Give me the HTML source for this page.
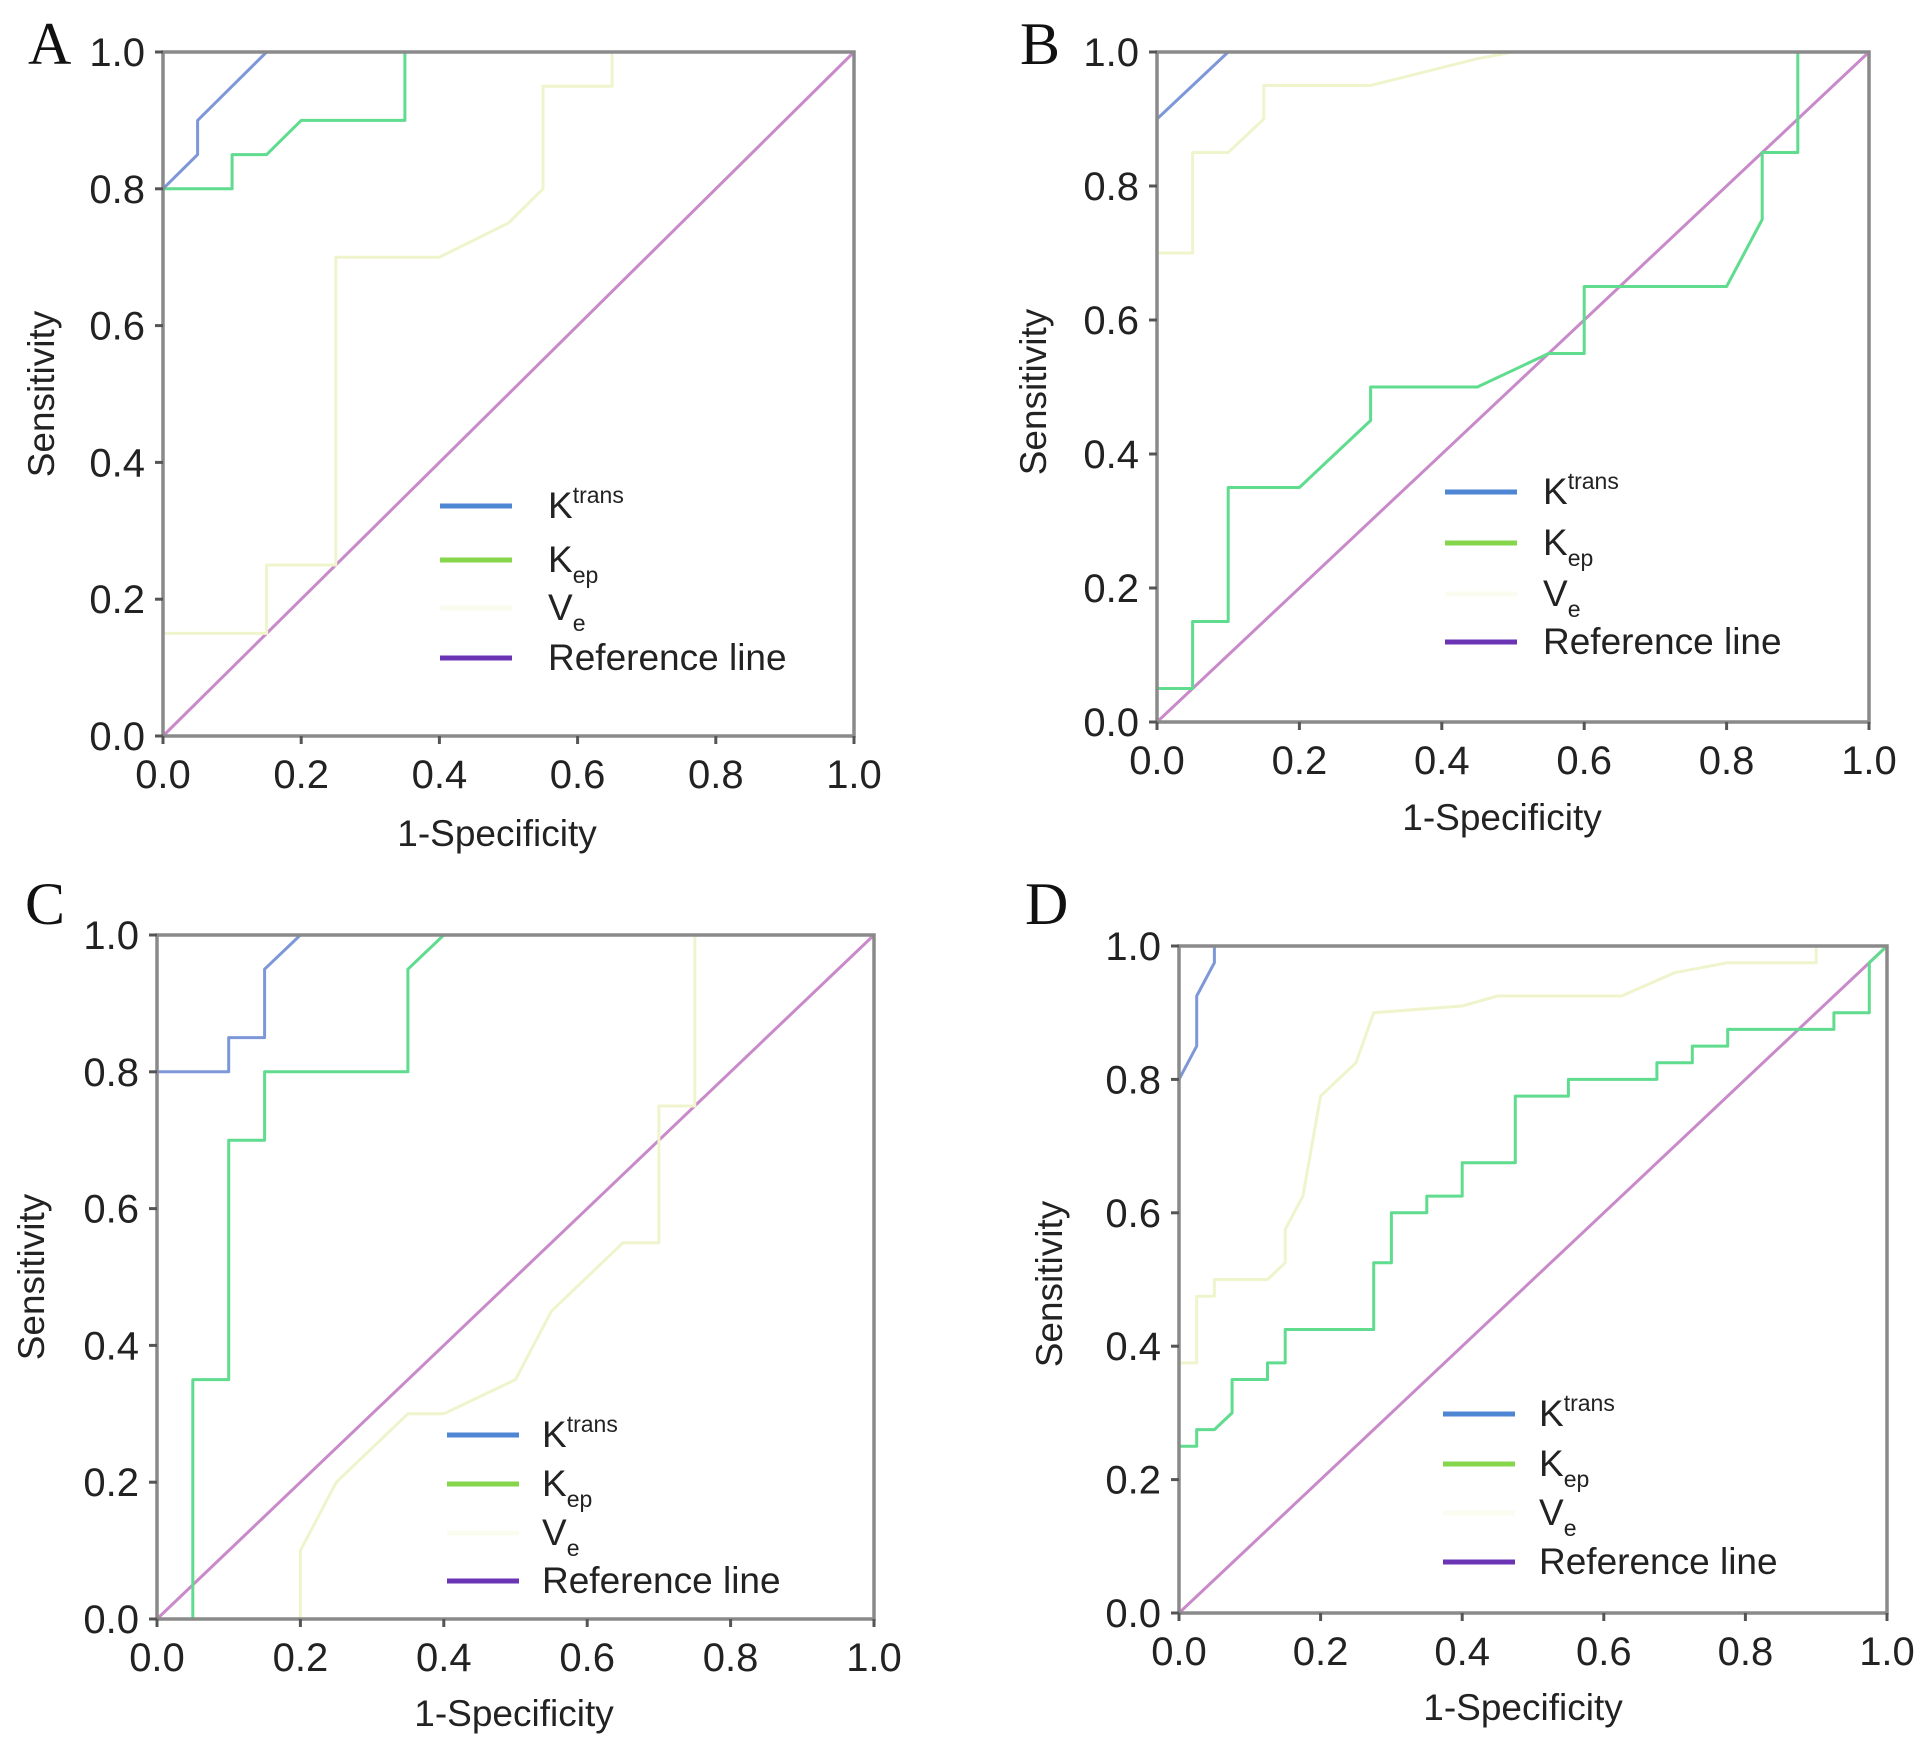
<!DOCTYPE html>
<html><head><meta charset="utf-8"><style>
html,body{margin:0;padding:0;background:#fff;}
svg{display:block;font-family:"Liberation Sans",sans-serif;}
</style></head><body>
<svg id="fig" width="1925" height="1746" viewBox="0 0 1925 1746" xmlns="http://www.w3.org/2000/svg"></svg>
<script>
const tickValues=[0,0.2,0.4,0.6,0.8,1.0];
const tickLabels=["0.0","0.2","0.4","0.6","0.8","1.0"];
const seriesNames=["Ktrans","Kep","Ve"];
const panelLetters=["A","B","C","D"];
const aKtransX=[0,0,0.05,0.05,0.15,1];
const aKtransY=[0,0.8,0.85,0.9,1,1];
const aKepX=[0,0,0.1,0.1,0.15,0.2,0.35,0.35,1];
const aKepY=[0,0.8,0.8,0.85,0.85,0.9,0.9,1,1];
const aVeX=[0,0,0.15,0.15,0.25,0.25,0.4,0.5,0.55,0.55,0.65,0.65,1];
const aVeY=[0,0.15,0.15,0.25,0.25,0.7,0.7,0.75,0.8,0.95,0.95,1,1];
const bKtransX=[0,0,0.1,1];
const bKtransY=[0,0.9,1,1];
const bKepX=[0,0,0.05,0.05,0.1,0.1,0.2,0.3,0.3,0.45,0.55,0.6,0.6,0.8,0.85,0.85,0.9,0.9,1];
const bKepY=[0,0.05,0.05,0.15,0.15,0.35,0.35,0.45,0.5,0.5,0.55,0.55,0.65,0.65,0.75,0.85,0.85,1,1];
const bVeX=[0,0,0.05,0.05,0.1,0.15,0.15,0.3,0.45,0.5,1];
const bVeY=[0,0.7,0.7,0.85,0.85,0.9,0.95,0.95,0.99,1,1];
const cKtransX=[0,0,0.1,0.1,0.15,0.15,0.2,1];
const cKtransY=[0,0.8,0.8,0.85,0.85,0.95,1,1];
const cKepX=[0.05,0.05,0.1,0.1,0.15,0.15,0.35,0.35,0.4,1];
const cKepY=[0,0.35,0.35,0.7,0.7,0.8,0.8,0.95,1,1];
const cVeX=[0.2,0.2,0.25,0.35,0.4,0.5,0.55,0.65,0.7,0.7,0.75,0.75,1];
const cVeY=[0,0.1,0.2,0.3,0.3,0.35,0.45,0.55,0.55,0.75,0.75,1,1];
const dKtransX=[0,0,0.025,0.025,0.05,0.05,1];
const dKtransY=[0,0.8,0.85,0.925,0.975,1,1];
const dKepX=[0,0,0.025,0.025,0.05,0.075,0.075,0.125,0.125,0.15,0.15,0.275,0.275,0.3,0.3,0.35,0.35,0.4,0.4,0.475,0.475,0.55,0.55,0.675,0.675,0.725,0.725,0.775,0.775,0.925,0.925,0.975,0.975,1];
const dKepY=[0,0.25,0.25,0.275,0.275,0.3,0.35,0.35,0.375,0.375,0.425,0.425,0.525,0.525,0.6,0.6,0.625,0.625,0.675,0.675,0.775,0.775,0.8,0.8,0.825,0.825,0.85,0.85,0.875,0.875,0.9,0.9,0.975,1];
const dVeX=[0,0,0.025,0.025,0.05,0.05,0.125,0.15,0.15,0.175,0.2,0.225,0.25,0.275,0.4,0.45,0.625,0.7,0.775,0.9,0.9,1];
const dVeY=[0,0.375,0.375,0.475,0.475,0.5,0.5,0.525,0.575,0.625,0.775,0.8,0.825,0.9,0.91,0.925,0.925,0.96,0.975,0.975,1,1];

const panels=[
 {id:"a",x0:163,x1:854,y0:736,y1:52,letter:[28,64],ylab:[54,394],xlab:[497,846],leg:{lx:440,tx:548,rows:[518,572,620,670]},
  kx:aKtransX,ky:aKtransY,ex:aKepX,ey:aKepY,vx:aVeX,vy:aVeY},
 {id:"b",x0:1157,x1:1869,y0:722,y1:52,letter:[1020,64],ylab:[1046,392],xlab:[1502,830],leg:{lx:1445,tx:1543,rows:[504,555,606,654]},
  kx:bKtransX,ky:bKtransY,ex:bKepX,ey:bKepY,vx:bVeX,vy:bVeY},
 {id:"c",x0:157,x1:874,y0:1619,y1:935,letter:[25,924],ylab:[44,1277],xlab:[514,1726],leg:{lx:447,tx:542,rows:[1447,1496,1545,1593]},
  kx:cKtransX,ky:cKtransY,ex:cKepX,ey:cKepY,vx:cVeX,vy:cVeY},
 {id:"d",x0:1179,x1:1887,y0:1613,y1:946,letter:[1025,924],ylab:[1062,1284],xlab:[1523,1720],leg:{lx:1443,tx:1539,rows:[1426,1476,1525,1574]},
  kx:dKtransX,ky:dKtransY,ex:dKepX,ey:dKepY,vx:dVeX,vy:dVeY}
];
const NS="http://www.w3.org/2000/svg";
const svg=document.getElementById("fig");
function mk(tag,attrs,parent){const e=document.createElementNS(NS,tag);for(const k in attrs)e.setAttribute(k,attrs[k]);parent.appendChild(e);return e;}
panels.forEach((p,pi)=>{
 const g=mk("g",{},svg);
 
 
 const sx=v=>p.x0+v*(p.x1-p.x0);
 const sy=v=>p.y0+v*(p.y1-p.y0);
 const L=mk("text",{x:p.letter[0],y:p.letter[1],"font-family":"Liberation Serif,serif","font-size":60,fill:"#111"},g);
 L.textContent=panelLetters[pi];
 
 
 const ref=mk("line",{x1:sx(0),y1:sy(0),x2:sx(1),y2:sy(1),stroke:"#c98ac9","stroke-width":3},g);
 
 
 const series=[[p.vx,p.vy,"#f0f4cc","ve-curve"],[p.ex,p.ey,"#5fdc8e","kep-curve"],[p.kx,p.ky,"#7d97d8","ktrans-curve"]];
 series.forEach(s=>{
  const pts=s[0].map((x,i)=>sx(x).toFixed(1)+","+sy(s[1][i]).toFixed(1)).join(" ");
  const pl=mk("polyline",{points:pts,fill:"none",stroke:s[2],"stroke-width":3,"stroke-linejoin":"round"},g);
  
  
 });
 const frame=mk("rect",{x:p.x0,y:p.y1,width:p.x1-p.x0,height:p.y0-p.y1,fill:"none",stroke:"#8a8a8a","stroke-width":3.5},g);
 
 
 tickValues.forEach((v,i)=>{
  mk("line",{x1:sx(v),y1:p.y0,x2:sx(v),y2:p.y0+8,stroke:"#555","stroke-width":3},g);
  mk("line",{x1:p.x0-8,y1:sy(v),x2:p.x0,y2:sy(v),stroke:"#555","stroke-width":3},g);
  const tx=mk("text",{x:sx(v),y:p.y0+52,"text-anchor":"middle","font-size":40,fill:"#222"},g);
  tx.textContent=tickLabels[i];
  
  
  const ty=mk("text",{x:p.x0-18,y:sy(v)+14,"text-anchor":"end","font-size":40,fill:"#222"},g);
  ty.textContent=tickLabels[i];
  
  
 });
 const xl=mk("text",{x:p.xlab[0],y:p.xlab[1],"text-anchor":"middle","font-size":37,fill:"#222"},g);
 xl.textContent="1-Specificity";
 
 
 const yl=mk("text",{x:p.ylab[0],y:p.ylab[1],"text-anchor":"middle","font-size":37,fill:"#222",transform:"rotate(-90 "+p.ylab[0]+" "+p.ylab[1]+")"},g);
 yl.textContent="Sensitivity";
 
 
 const lg=mk("g",{},g);
 
 
 const lcols=["#4f86d4","#86d64c","#fbfcf0","#6a34b4"];
 const lnames=["legend-ktrans","legend-kep","legend-ve","legend-reference-line"];
 p.leg.rows.forEach((ry,i)=>{
  mk("line",{x1:p.leg.lx,y1:ry-12,x2:p.leg.lx+72,y2:ry-12,stroke:lcols[i],"stroke-width":5},lg);
  const t=mk("text",{x:p.leg.tx,y:ry,"font-size":37,fill:"#222"},lg);
  
  
  if(i===0){t.innerHTML='K<tspan font-size="23" dy="-15">trans</tspan>';}
  else if(i===1){t.innerHTML='K<tspan font-size="23" dy="11">ep</tspan>';}
  else if(i===2){t.innerHTML='V<tspan font-size="23" dy="11">e</tspan>';}
  else {t.textContent="Reference line";}
 });
});
</script>
</body></html>
